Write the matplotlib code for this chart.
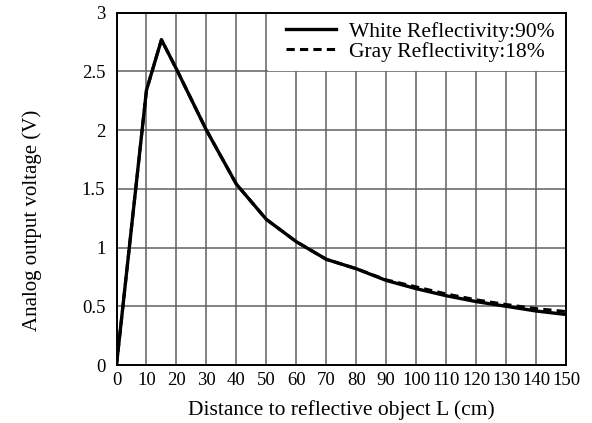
import matplotlib
matplotlib.use("Agg")
import matplotlib.pyplot as plt
from matplotlib.patches import Rectangle

distance_cm = [0, 10, 15, 20, 30, 40, 50, 60, 70, 80, 90, 100, 110, 120, 130, 140, 150]
white_v = [0.0, 2.34, 2.77, 2.52, 2.0, 1.54, 1.24, 1.05, 0.90, 0.82, 0.72, 0.65, 0.59, 0.54, 0.50, 0.46, 0.43]
gray_v = [0.0, 2.34, 2.77, 2.52, 2.0, 1.54, 1.24, 1.05, 0.90, 0.82, 0.725, 0.665, 0.605, 0.555, 0.515, 0.48, 0.455]

x_ticks = list(range(0, 151, 10))
y_ticks = [0, 0.5, 1, 1.5, 2, 2.5, 3]
y_tick_labels = ["0", "0.5", "1", "1.5", "2", "2.5", "3"]

plt.rcParams['font.family'] = ['Liberation Serif', 'DejaVu Serif']

fig = plt.figure(figsize=(5.92, 4.23), dpi=100)
ax = fig.add_axes([116.5/592, 1-365/423, (566-116.5)/592, (365-12.7)/423])

ax.set_xlim(0, 150)
ax.set_ylim(0, 3)
ax.set_xticks(x_ticks)
ax.set_yticks(y_ticks)
ax.set_yticklabels(y_tick_labels)
ax.tick_params(length=0, labelsize=13.5)
ax.tick_params(axis='x', pad=5)
ax.tick_params(axis='y', pad=8)
ax.set_axisbelow(True)
ax.grid(True, color='#606060', linewidth=1.1)
for s in ax.spines.values():
    s.set_linewidth(1.4)
    s.set_color('black')

# white area behind legend
ax.add_patch(Rectangle((50.4, 2.507), 99.6, 0.493, facecolor='white', edgecolor='none', zorder=1))

ax.plot(distance_cm, gray_v, color='black', linewidth=2.2, linestyle=(0, (2.7, 1.7)), zorder=3,
        label='Gray Reflectivity:18%')
ax.plot(distance_cm, white_v, color='black', linewidth=2.4, zorder=4, label='White Reflectivity:90%')

handles, labels = ax.get_legend_handles_labels()
leg = ax.legend(handles[::-1], labels[::-1], loc='upper right', frameon=False, fontsize=15.5,
                handlelength=2.3, handletextpad=0.6, borderaxespad=0.1, labelspacing=0.0,
                bbox_to_anchor=(0.998, 1.005))

ax.set_xlabel('Distance to reflective object L (cm)', fontsize=15.5, labelpad=8)
ax.set_ylabel('Analog output voltage (V)', fontsize=15)
ax.yaxis.set_label_coords(-0.165, 0.41)

fig.savefig('out.png', dpi=100)
